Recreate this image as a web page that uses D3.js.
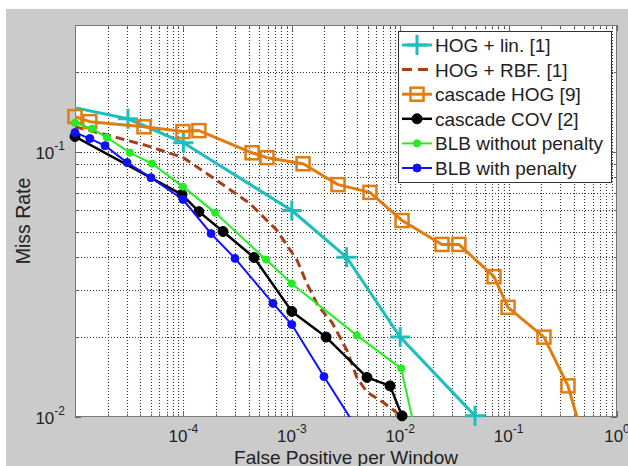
<!DOCTYPE html>
<html><head><meta charset="utf-8">
<script src="https://cdn.jsdelivr.net/npm/d3@7"></script>
<style>body{margin:0;background:#fff}svg{display:block}text{font-family:"Liberation Sans",Arial,sans-serif;fill:#222}</style>
</head><body><svg id="c" width="628" height="466"></svg>
<script>
// ---- data ----
const hogLinX  = [5e-6, 3.08e-5, 1e-4, 1e-3, 3.2e-3, 1e-2, 0.049];
const hogLinY  = [0.155, 0.133, 0.108, 0.060, 0.040, 0.020, 0.0101];
const hogRbfX  = [1e-5, 2.1e-5, 4.6e-5, 1e-4, 2.04e-4, 4.11e-4, 7.3e-4, 1.12e-3, 1.38e-3, 1.74e-3, 2.35e-3, 3.23e-3, 3.98e-3, 4.94e-3, 6.94e-3, 9.55e-3];
const hogRbfY  = [0.124, 0.1148, 0.1053, 0.0949, 0.0778, 0.0637, 0.0505, 0.0389, 0.0318, 0.0263, 0.0227, 0.0178, 0.0141, 0.0124, 0.01136, 0.0103];
const cascHogX = [1e-5, 1.37e-5, 4.33e-5, 9.9e-5, 1.39e-4, 4.3e-4, 5.9e-4, 1.27e-3, 2.67e-3, 5.26e-3, 0.0104, 0.0243, 0.0348, 0.0733, 0.0988, 0.212, 0.353, 0.5];
const cascHogY = [0.1355, 0.1297, 0.124, 0.119, 0.120, 0.099, 0.0949, 0.090, 0.0751, 0.0702, 0.055, 0.0447, 0.0447, 0.0338, 0.0259, 0.020, 0.0131, 0.008];
const cascCovX = [1e-5, 9.7e-5, 1.39e-4, 2.32e-4, 4.48e-4, 1e-3, 2.07e-3, 4.94e-3, 8.06e-3, 0.0104];
const cascCovY = [0.114, 0.0689, 0.0594, 0.050, 0.0399, 0.025, 0.020, 0.0141, 0.0131, 0.0101];
const blbNoX   = [1e-5, 1.44e-5, 1.97e-5, 3.21e-5, 5.13e-5, 9.9e-5, 1.96e-4, 5.78e-4, 1e-3, 3.98e-3, 0.0102, 0.0145];
const blbNoY   = [0.1285, 0.122, 0.113, 0.0991, 0.0901, 0.0738, 0.0589, 0.0392, 0.0318, 0.0203, 0.01525, 0.008];
const blbPenX  = [1e-5, 1.37e-5, 1.89e-5, 3.02e-5, 5.02e-5, 9.9e-5, 1.8e-4, 2.99e-4, 6.71e-4, 1e-3, 1.98e-3, 4.83e-3];
const blbPenY  = [0.118, 0.112, 0.1053, 0.0909, 0.0798, 0.066, 0.0491, 0.0396, 0.0268, 0.0223, 0.0142, 0.008];
const names    = ["HOG + lin. [1]", "HOG + RBF. [1]", "cascade HOG [9]", "cascade COV [2]", "BLB without penalty", "BLB with penalty"];
const xTickExp = [-4, -3, -2, -1, 0];
const yTickExp = [-2, -1];
const xTitle = "False Positive per Window", yTitle = "Miss Rate";

// ---- styles ----
const styles = [
  {color:"#1ebebe", w:3,   dash:null,   marker:"plus",   ms:10},
  {color:"#a3401c", w:3,   dash:"9,5",  marker:null,     ms:0},
  {color:"#e07c10", w:3,   dash:null,   marker:"square", ms:6.5},
  {color:"#000000", w:2.5, dash:null,   marker:"circle", ms:5},
  {color:"#22ee22", w:2,   dash:null,   marker:"circle", ms:3.6},
  {color:"#1010ff", w:2,   dash:null,   marker:"circle", ms:4}
];
const seriesX = [hogLinX, hogRbfX, cascHogX, cascCovX, blbNoX, blbPenX];
const seriesY = [hogLinY, hogRbfY, cascHogY, cascCovY, blbNoY, blbPenY];
const series = names.map((n,i)=>({name:n, pts: seriesX[i].map((x,j)=>[x, seriesY[i][j]]), ...styles[i]}));

const svg = d3.select("#c");
const L=75, T=25, R=617, B=417;
svg.append("rect").attr("x",6).attr("y",9).attr("width",622).attr("height",457).attr("fill","#cbcbcb");
svg.append("rect").attr("x",L).attr("y",T).attr("width",R-L).attr("height",B-T).attr("fill","#fff");

const x = d3.scaleLog().domain([1e-5, 1]).range([L, R]);
const y = d3.scaleLog().domain([0.01, 0.3]).range([B, T]);

// grid
const xg = [];
for (let e=-5; e<0; e++) for (let k=1; k<10; k++) xg.push(k*Math.pow(10,e));
xg.push(1);
const yg = [];
for (let e=-2; e<0; e++) for (let k=1; k<10; k++) { const v=k*Math.pow(10,e); if (v<=0.3) yg.push(v); }
const grid = svg.append("g").attr("stroke","#333").attr("stroke-width",1.1).attr("stroke-dasharray","1,2");
grid.selectAll("line.v").data(xg.filter(v=>v>1e-5 && v<1)).join("line").attr("class","v")
  .attr("x1",d=>Math.round(x(d))+0.5).attr("x2",d=>Math.round(x(d))+0.5).attr("y1",T).attr("y2",B);
grid.selectAll("line.h").data(yg.filter(v=>v>0.01 && v<0.3)).join("line").attr("class","h")
  .attr("y1",d=>Math.round(y(d))+0.5).attr("y2",d=>Math.round(y(d))+0.5).attr("x1",L).attr("x2",R);

// ticks (inside, all four sides)
const tk = svg.append("g").attr("stroke","#666").attr("stroke-width",1);
xg.forEach(v=>{
  const len = Number.isInteger(Math.log10(v)) ? 6 : 3;
  const px = Math.round(x(v))+0.5;
  tk.append("line").attr("x1",px).attr("x2",px).attr("y1",B).attr("y2",B-len);
  tk.append("line").attr("x1",px).attr("x2",px).attr("y1",T).attr("y2",T+len);
});
yg.concat([0.3]).forEach(v=>{
  const len = Math.abs(Math.log10(v)-Math.round(Math.log10(v)))<1e-9 ? 6 : 3;
  const py = Math.round(y(v))+0.5;
  tk.append("line").attr("y1",py).attr("y2",py).attr("x1",L).attr("x2",L+len);
  tk.append("line").attr("y1",py).attr("y2",py).attr("x1",R).attr("x2",R-len);
});
svg.append("rect").attr("x",L+0.5).attr("y",T+0.5).attr("width",R-L-1).attr("height",B-T-1)
  .attr("fill","none").attr("stroke","#777").attr("stroke-width",1);

// tick labels
xTickExp.forEach(e=>{
  const t = svg.append("text").attr("x", x(Math.pow(10,e))).attr("y", 442).attr("text-anchor","middle");
  t.append("tspan").attr("font-size",17).text("10");
  t.append("tspan").attr("font-size",12).attr("dy",-9).text(String(e));
});
yTickExp.forEach(e=>{
  const t = svg.append("text").attr("x", 65).attr("y", y(Math.pow(10,e))+7).attr("text-anchor","end");
  t.append("tspan").attr("font-size",17).text("10");
  t.append("tspan").attr("font-size",12).attr("dy",-9).text(String(e));
});
svg.append("text").attr("x",(L+R)/2).attr("y",463.5).attr("text-anchor","middle").attr("font-size",19).text(xTitle);
svg.append("text").attr("transform",`translate(30,${(T+B)/2}) rotate(-90)`).attr("text-anchor","middle").attr("font-size",19.5).text(yTitle);

// series
svg.append("clipPath").attr("id","pc").append("rect").attr("x",L).attr("y",T).attr("width",R-L).attr("height",B-T);
const line = d3.line().x(d=>x(d[0])).y(d=>y(d[1]));
function drawMarker(g, s, cx, cy) {
  if (s.marker==="plus") {
    g.append("path").attr("d",`M${cx-s.ms},${cy}H${cx+s.ms}M${cx},${cy-s.ms}V${cy+s.ms}`)
      .attr("stroke",s.color).attr("stroke-width",3).attr("fill","none");
  } else if (s.marker==="square") {
    g.append("rect").attr("x",cx-s.ms).attr("y",cy-s.ms).attr("width",2*s.ms).attr("height",2*s.ms)
      .attr("fill","none").attr("stroke",s.color).attr("stroke-width",2.5);
  } else if (s.marker==="circle") {
    g.append("circle").attr("cx",cx).attr("cy",cy).attr("r",s.ms).attr("fill",s.color).attr("stroke",s.color).attr("stroke-width",1);
  }
}
series.forEach(s=>{
  const g = svg.append("g");
  g.append("path").attr("d",line(s.pts)).attr("clip-path","url(#pc)").attr("fill","none")
    .attr("stroke",s.color).attr("stroke-width",s.w).attr("stroke-dasharray",s.dash).attr("stroke-linejoin","round");
  if (s.marker) s.pts.filter(p=>p[0]>=1e-5*0.999 && p[1]>=0.01*0.999).forEach(p=>drawMarker(g,s,x(p[0]),y(p[1])));
});

// legend
const lg = svg.append("g");
lg.append("rect").attr("x",398.5).attr("y",31.5).attr("width",213).attr("height",151).attr("fill","#fff").attr("stroke","#333").attr("stroke-width",1);
series.forEach((s,i)=>{
  const cy = 45 + i*24.6;
  const g = lg.append("g");
  g.append("line").attr("x1",402).attr("x2",432).attr("y1",cy).attr("y2",cy).attr("stroke",s.color).attr("stroke-width",s.w)
    .attr("stroke-dasharray", s.dash ? "10,6" : null);
  if (s.marker) drawMarker(g, s, 417, cy);
  lg.append("text").attr("x",435).attr("y",cy+7).attr("font-size",19).text(s.name);
});
</script></body></html>
